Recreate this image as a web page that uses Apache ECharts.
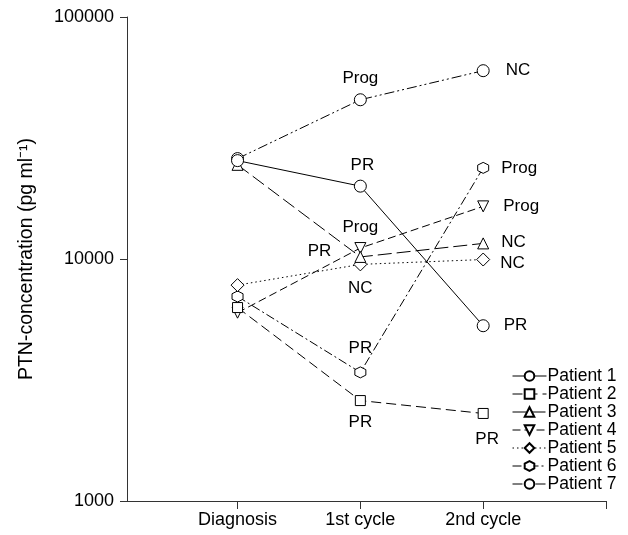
<!DOCTYPE html>
<html>
<head>
<meta charset="utf-8">
<script src="https://cdn.jsdelivr.net/npm/echarts@6/dist/echarts.min.js"></script>
<style>html,body{margin:0;padding:0;background:#fff}#c{width:628px;height:535px}</style>
</head>
<body>
<div id="c"></div>
<script>
// Data
const categories = ['Diagnosis', '1st cycle', '2nd cycle'];
const xPositions = [1, 2, 3];
const yTicks = [1000, 10000, 100000];
const patientNames = ['Patient 1', 'Patient 2', 'Patient 3', 'Patient 4', 'Patient 5', 'Patient 6', 'Patient 7'];
const patient1 = [25500, 20000, 5300];
const patient2 = [6300, 2600, 2300];
const patient3 = [24500, 10200, 11600];
const patient4 = [6000, 11100, 16500];
const patient5 = [7800, 9500, 9950];
const patient6 = [7000, 3400, 23800];
const patient7 = [26000, 45500, 60000];
const response1 = ['', 'PR', 'PR'];
const response2 = ['', 'PR', 'PR'];
const response3 = ['', 'PR', 'NC'];
const response4 = ['', 'Prog', 'Prog'];
const response5 = ['', 'NC', 'NC'];
const response6 = ['', 'PR', 'Prog'];
const response7 = ['', 'Prog', 'NC'];

const values = [patient1, patient2, patient3, patient4, patient5, patient6, patient7];
const responses = [response1, response2, response3, response4, response5, response6, response7];

// styling (not data)
const hexagon = 'path://M0,-10 L8.66,-5 L8.66,5 L0,10 L-8.66,5 L-8.66,-5 Z';
const symbols = ['circle', 'rect', 'triangle', 'triangle', 'diamond', hexagon, 'circle'];
const rotates = [0, 0, 0, 180, 0, 0, 0];
const sizes = [12, 10, 11, 11, 13, 11, 12];
const dashes = ['solid', [10, 5], [14, 5], [8, 4], [1.5, 3], [9, 3, 2, 3], [10, 3, 2, 3, 2, 3]];
const labelPos = [
  [null, 'top', 'right'],
  [null, 'bottom', 'bottom'],
  [null, 'left', 'right'],
  [null, 'top', 'right'],
  [null, 'bottom', 'right'],
  [null, 'top', 'right'],
  [null, 'top', 'right']
];
const labelOffsets = [
  [null, [2, 0], [8, 0]],
  [null, [0, 2], [4, 6]],
  [null, [-17, -6], [6, -1]],
  [null, [0, 0], [8, 0]],
  [null, [0, 2], [4, 4]],
  [null, [0, -4], [6, 0]],
  [null, [0, 0], [10, 0]]
];

const FONT = 'Liberation Sans, Arial, sans-serif';
const LABEL_SIZE = 17;

const series = values.map((vals, i) => ({
  name: patientNames[i],
  type: 'line',
  symbol: symbols[i],
  symbolSize: sizes[i],
  symbolRotate: rotates[i],
  showAllSymbol: true,
  lineStyle: { color: '#000', width: 1, type: dashes[i] },
  itemStyle: { color: '#fff', borderColor: '#000', borderWidth: 1 },
  emphasis: { disabled: true },
  z: 10 - i,
  data: vals.map((v, j) => {
    const item = { value: [xPositions[j], v] };
    if (responses[i][j]) {
      item.label = {
        show: true,
        formatter: responses[i][j],
        position: labelPos[i][j],
        offset: labelOffsets[i][j],
        distance: 6,
        color: '#000',
        fontSize: LABEL_SIZE,
        fontFamily: FONT
      };
    }
    return item;
  })
}));

const chart = echarts.init(document.getElementById('c'), null, { renderer: 'canvas' });
chart.setOption({
  animation: false,
  backgroundColor: '#fff',
  grid: { left: 127, right: 22, top: 17, bottom: 34, containLabel: false },
  xAxis: {
    type: 'value',
    min: 0.1,
    max: 4,
    splitLine: { show: false },
    axisLine: { onZero: false, lineStyle: { color: '#333', width: 1 } },
    axisTick: { customValues: [1, 2, 3, 4], length: 8, lineStyle: { color: '#333' } },
    axisLabel: {
      customValues: xPositions,
      formatter: v => categories[xPositions.indexOf(Math.round(v))] || '',
      color: '#000', fontSize: 18, fontFamily: FONT, margin: 10
    }
  },
  yAxis: {
    type: 'log',
    logBase: 10,
    min: yTicks[0],
    max: yTicks[yTicks.length - 1],
    splitLine: { show: false },
    minorTick: { show: false },
    axisLine: { show: true, lineStyle: { color: '#333', width: 1 } },
    axisTick: { show: true, length: 7, lineStyle: { color: '#333' } },
    axisLabel: { color: '#000', fontSize: 18, fontFamily: FONT, margin: 13, formatter: v => String(Math.round(v)) },
    name: 'PTN-concentration (pg ml\u207B\u00B9)',
    nameLocation: 'middle',
    nameGap: 90,
    nameTextStyle: { color: '#000', fontSize: 19.5, fontFamily: FONT }
  },
  legend: {
    data: patientNames,
    orient: 'vertical',
    left: 507,
    top: 362,
    itemWidth: 34,
    itemHeight: 12,
    itemGap: 0,
    lineStyle: { width: 1 },
    textStyle: { color: '#000', fontSize: 17.5, lineHeight: 16, fontFamily: FONT, padding: [0, 0, 0, -4] },
    selectedMode: false
  },
  series: series
});
</script>
</body>
</html>
